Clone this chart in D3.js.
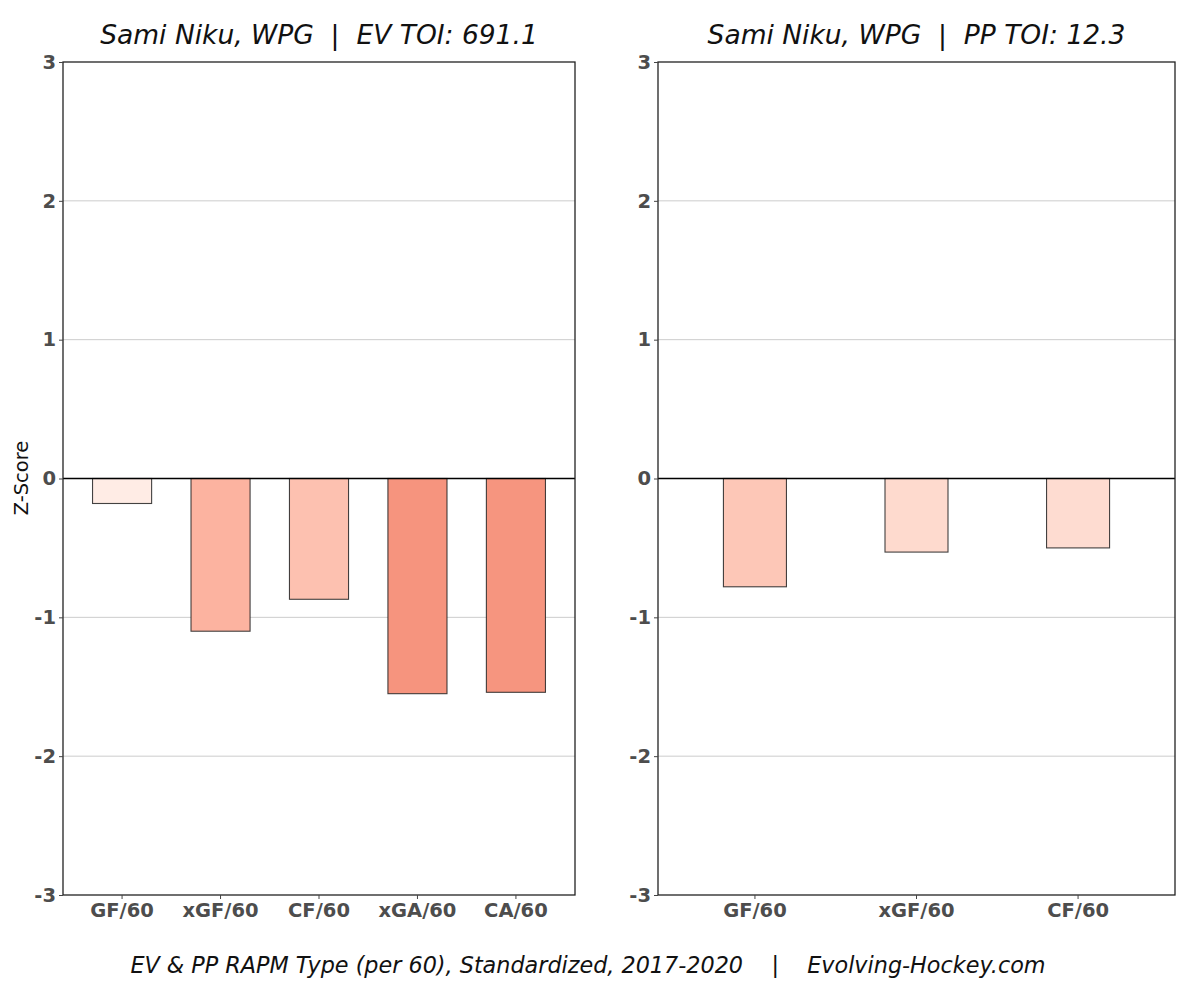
<!DOCTYPE html>
<html>
<head>
<meta charset="utf-8">
<script src="https://cdn.jsdelivr.net/npm/d3@7"></script>
<style>
  body { margin: 0; background: #fff; }
  svg { display: block; font-family: "DejaVu Sans", sans-serif; }
  text { white-space: pre; }
</style>
</head>
<body>
<div id="chart"></div>
<script>
// values (standardized RAPM z-scores)
const evCategories = ["GF/60", "xGF/60", "CF/60", "xGA/60", "CA/60"];
const evValues = [-0.18, -1.10, -0.87, -1.55, -1.54];
const ppCategories = ["GF/60", "xGF/60", "CF/60"];
const ppValues = [-0.78, -0.53, -0.50];
const yTicks = [-3, -2, -1, 0, 1, 2, 3];

const evTitle = "Sami Niku, WPG  |  EV TOI: 691.1";
const ppTitle = "Sami Niku, WPG  |  PP TOI: 12.3";
const footer = "EV & PP RAPM Type (per 60), Standardized, 2017-2020    |    Evolving-Hockey.com";

const width = 1200, height = 988;
const svg = d3.select("#chart").append("svg")
  .attr("width", width)
  .attr("height", height);

const y = d3.scaleLinear().domain([-3, 3]).range([895, 62]);
// fill darkens with the size of the z-score
const color = d3.scaleLinear()
  .domain([0, 0.5, 0.85, 1.1, 1.6])
  .range(["#fff5f0", "#fedcd1", "#fdc2b1", "#fcb3a0", "#f5917a"]);

function panel(cats, vals, title, x0, x1, barShare) {
  const x = d3.scaleBand()
    .domain(cats)
    .range([x0, x1])
    .paddingInner(1 - barShare)
    .paddingOuter(0.6 - barShare / 2);

  const g = svg.append("g");

  // gridlines
  g.append("g")
    .selectAll("line")
    .data(yTicks.filter(t => t !== 0 && Math.abs(t) !== 3))
    .join("line")
    .attr("x1", x0).attr("x2", x1)
    .attr("y1", d => y(d)).attr("y2", d => y(d))
    .attr("stroke", "#cccccc")
    .attr("stroke-width", 1);

  // bars
  g.append("g")
    .selectAll("rect")
    .data(cats.map((c, i) => ({ c, v: vals[i] })))
    .join("rect")
    .attr("x", d => x(d.c))
    .attr("width", x.bandwidth())
    .attr("y", d => y(Math.max(0, d.v)))
    .attr("height", d => Math.abs(y(d.v) - y(0)))
    .attr("fill", d => color(Math.abs(d.v)))
    .attr("stroke", "#222")
    .attr("stroke-opacity", 0.85)
    .attr("stroke-width", 1.1);

  // zero line
  g.append("line")
    .attr("x1", x0).attr("x2", x1)
    .attr("y1", y(0)).attr("y2", y(0))
    .attr("stroke", "#000")
    .attr("stroke-width", 1.3);

  // frame
  g.append("rect")
    .attr("x", x0).attr("y", y(3))
    .attr("width", x1 - x0).attr("height", y(-3) - y(3))
    .attr("fill", "none")
    .attr("stroke", "#222")
    .attr("stroke-width", 1.3);

  const yAxis = g.append("g")
    .attr("transform", `translate(${x0},0)`)
    .call(d3.axisLeft(y).tickValues(yTicks).tickFormat(d => String(d)).tickSize(4).tickPadding(3));
  yAxis.select(".domain").remove();

  const xAxis = g.append("g")
    .attr("transform", `translate(0,${y(-3)})`)
    .call(d3.axisBottom(x).tickSize(4).tickPadding(4));
  xAxis.select(".domain").remove();

  g.selectAll(".tick line").attr("stroke", "#444");
  g.selectAll(".tick text")
    .attr("fill", "#4d4d4d")
    .attr("font-size", 19.5)
    .attr("font-weight", "bold")
    .attr("font-family", "DejaVu Sans, sans-serif");

  g.append("text")
    .attr("x", (x0 + x1) / 2)
    .attr("y", 44)
    .attr("text-anchor", "middle")
    .attr("font-size", 26.5)
    .attr("font-style", "italic")
    .attr("fill", "#111")
    .text(title);
}

panel(evCategories, evValues, evTitle, 63, 575, 0.6);
panel(ppCategories, ppValues, ppTitle, 658, 1175, 0.39);

svg.append("text")
  .attr("transform", "translate(28,478) rotate(-90)")
  .attr("text-anchor", "middle")
  .attr("font-size", 19.5)
  .attr("fill", "#111")
  .text("Z-Score");

svg.append("text")
  .attr("x", 588)
  .attr("y", 973)
  .attr("text-anchor", "middle")
  .attr("font-size", 22.3)
  .attr("font-style", "italic")
  .attr("fill", "#111")
  .text(footer);
</script>
</body>
</html>
